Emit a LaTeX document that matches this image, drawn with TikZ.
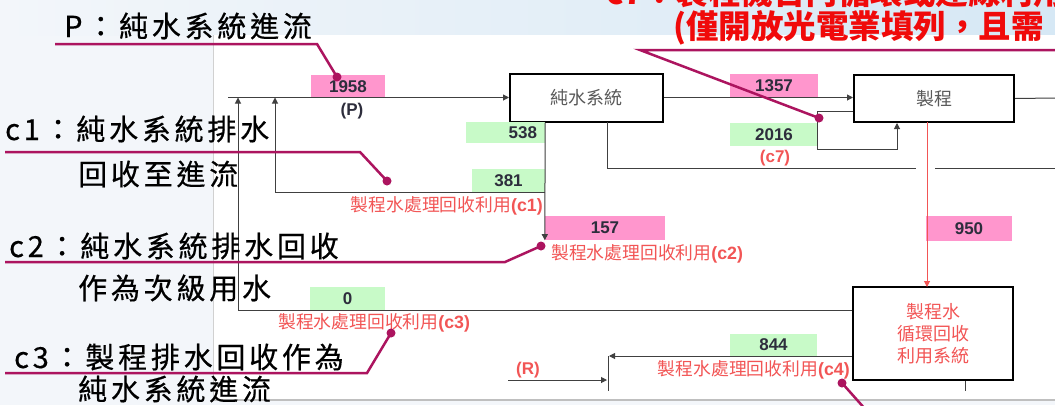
\documentclass[tikz,border=0pt]{standalone}
\usepackage{fontspec}
\setmainfont{Liberation Sans}
\newfontfamily\cjk{Noto Sans CJK TC}
\newfontfamily\cjkwide[LetterSpace=13,FakeBold=0.5]{Noto Sans CJK TC}
\usepackage{tikz}
\usetikzlibrary{positioning,calc,arrows.meta}

\definecolor{calloutc}{RGB}{172,20,95}
\definecolor{pinkfill}{RGB}{255,150,205}
\definecolor{greenfill}{RGB}{200,250,200}
\definecolor{labelred}{RGB}{242,85,85}
\definecolor{titlered}{RGB}{240,10,10}
\definecolor{numgray}{RGB}{45,45,60}
\definecolor{slidebg}{RGB}{243,246,250}
\definecolor{slidetop}{RGB}{214,232,245}

\newcommand{\lbltag}[1]{{\rmfamily\bfseries(#1)}}

\tikzset{
  blk/.style={draw=black, line width=2pt, inner sep=0pt, text=black!65,
    font=\cjk\fontsize{18}{22}\selectfont},
  valbox/.style={inner sep=0pt, text=numgray, font=\bfseries\fontsize{17}{17}\selectfont},
  pinkv/.style={valbox, fill=pinkfill},
  greenv/.style={valbox, fill=greenfill},
  flow/.style={draw=black!75, line width=1pt},
  redflow/.style={draw=labelred, line width=1pt},
  arr/.style={-{Triangle[length=6pt,width=6pt]}},
  redlbl/.style={text=labelred, inner sep=0pt, font=\cjk\fontsize{17.8}{19}\selectfont},
  calltext/.style={text=black, inner sep=0pt, anchor=west, font=\cjkwide\fontsize{29}{32}\selectfont},
  titletext/.style={text=titlered, inner sep=0pt, anchor=west, font=\cjk\bfseries\fontsize{32.5}{35}\selectfont},
  callout/.style={draw=calloutc, line width=2.5pt},
  dot/.style={circle, fill=calloutc, inner sep=0pt, minimum size=9pt}
}

\begin{document}
\begin{tikzpicture}[x=1pt, y=-1pt]
    \useasboundingbox (0,0) rectangle (1055,405);
    \clip (0,0) rectangle (1055,405);

    % slide and panel
    \fill[slidebg] (0,0) rectangle (1055,405);
    \shade[left color=slidebg, right color=slidetop] (0,0) rectangle (1055,35);
    \fill[white] (213,35) rectangle (1055,400);
    \draw[black!18, line width=1pt] (213,35) -- (213,400);
    \draw[black!25, line width=2pt] (213,400) -- (1055,400);

    % units
    \node[blk, minimum width=153, minimum height=48] (pure) at (586.5,97.5) {純水系統};
    \node[blk, minimum width=160, minimum height=47] (proc) at (934,98.5) {製程};
    \node[blk, minimum width=160, minimum height=93, text=labelred, align=center]
        (recyc) at (933,333.5) {製程水\\循環回收\\利用系統};

    % flow values
    \node[pinkv, minimum width=74, minimum height=23] (vP) at (348,86.5) {1958};
    \node[valbox] (tagP) at (352,111) {(P)};
    \node[greenv, minimum width=79, minimum height=21, text width=63, align=right] (v538) at (505.5,132.5) {538};
    \node[greenv, minimum width=73, minimum height=23] (v381) at (508.5,180.5) {381};
    \node[pinkv, minimum width=120, minimum height=24] (v157) at (605,228) {157};
    \node[pinkv, minimum width=88, minimum height=23] (v1357) at (774,85.5) {1357};
    \node[greenv, minimum width=88, minimum height=23] (v2016) at (774,134.5) {2016};
    \node[valbox, text=labelred] (tagc7) at (775,158) {(c7)};
    \node[pinkv, minimum width=86, minimum height=25] (v950) at (969,228.5) {950};
    \node[greenv, minimum width=75, minimum height=23] (v0) at (347.5,298.5) {0};
    \node[greenv, minimum width=87, minimum height=22] (v844) at (773.5,344.5) {844};
    \node[valbox, text=labelred] (tagR) at (528,370) {(R)};

    % recovery labels
    \node[redlbl, anchor=east] (lc1) at (543,206) {製程水處理回收利用\lbltag{c1}};
    \node[redlbl, anchor=west] (lc2) at (551,254) {製程水處理回收利用\lbltag{c2}};
    \node[redlbl, anchor=west] (lc3) at (278,323) {製程水處理回收利用\lbltag{c3}};
    \node[redlbl, anchor=east] (lc4) at (850,370) {製程水處理回收利用\lbltag{c4}};

    % main line
    \coordinate (feed) at (228,97.5);
    \coordinate (c1up) at (275,97.5);
    \coordinate (c3up) at (238,97.5);
    \draw[flow,arr] (feed) -- (feed -| pure.west);
    \draw[flow,arr] (pure.east) -- (pure.east -| proc.west);
    \coordinate (outR) at (1055,98);
    \draw[flow] (proc.east) -- (outR);

    % returns to feed
    \draw[flow,arr] (v381.south east) -| (c1up);
    \draw[flow,arr] (recyc.west |- v0.south) -| (c3up);
    \draw[flow,arr] (pure.south -| v381.east) -- (v157.south west);

    % drain from pure water unit
    \coordinate (drainTop) at (607,122);
    \coordinate (drainA) at (916,168);
    \coordinate (drainB) at (935,168);
    \coordinate (drainEnd) at (1055,168);
    \draw[flow] (drainTop) |- (drainA);
    \draw[flow] (drainB) -- (drainEnd);

    % c7 loop
    \coordinate (c7a) at (817,111);
    \coordinate (c7b) at (897,149);
    \draw[flow,arr] (proc.west |- c7a) -- (c7a) |- (c7b) -- (c7b |- proc.south);

    % process drain to recycling
    \coordinate (redTop) at (927,122);
    \coordinate (redEnd) at (927,287);
    \draw[redflow,arr] (redTop) -- (redEnd);

    % c4 and R
    \coordinate (rjoin) at (608,356);
    \coordinate (rtip) at (609,356);
    \coordinate (rbot) at (608,391);
    \coordinate (rin) at (508,380);
    \coordinate (rend) at (607,380);
    \coordinate (tick) at (965,391);
    \draw[flow,arr] (recyc.west |- rjoin) -- (rtip);
    \draw[flow] (rjoin) -- (rbot);
    \draw[flow,arr] (rin) -- (rend);
    \draw[flow] (recyc.south -| tick) -- (tick);

    % callouts
    \node[calltext] (tP) at (64,26) {P：純水系統進流};
    \node[calltext] (tc1) at (5,129) {c1：純水系統排水};
    \node[calltext] (tc1b) at (78,174) {回收至進流};
    \node[calltext] (tc2) at (9,246) {c2：純水系統排水回收};
    \node[calltext] (tc2b) at (78,288) {作為次級用水};
    \node[calltext] (tc3) at (14,357) {c3：製程排水回收作為};
    \node[calltext] (tc3b) at (78,389) {純水系統進流};
    \node[titletext] (tc7) at (606,-8) {c7：製程機台內循環或連線利用};
    \node[titletext] (tc7b) at (673,28) {(僅開放光電業填列，且需};

    \node[dot] (dP) at (337,77) {};
    \node[dot] (dc1) at (387,181) {};
    \node[dot] (dc2) at (541,246) {};
    \node[dot] (dc3) at (391,333) {};
    \node[dot] (dc7) at (819,118) {};
    \node[dot] (dc4) at (842,383) {};

    \coordinate (uP0) at (55,44);    \coordinate (uP1) at (317,44);
    \coordinate (u10) at (5,152);    \coordinate (u11) at (360,152);
    \coordinate (u20) at (5,262);    \coordinate (u21) at (505,262);
    \coordinate (u30) at (5,373);    \coordinate (u31) at (367,373);
    \coordinate (u70) at (1055,50);  \coordinate (u71) at (640,50);
    \coordinate (u4) at (866,410);
    \draw[callout] (uP0) -- (uP1) -- (dP.center);
    \draw[callout] (u10) -- (u11) -- (dc1.center);
    \draw[callout] (u20) -- (u21) -- (dc2.center);
    \draw[callout] (u30) -- (u31) -- (dc3.center);
    \draw[callout] (u70) -- (u71) -- (dc7.center);
    \draw[callout] (dc4.center) -- (u4);
\end{tikzpicture}
\end{document}
